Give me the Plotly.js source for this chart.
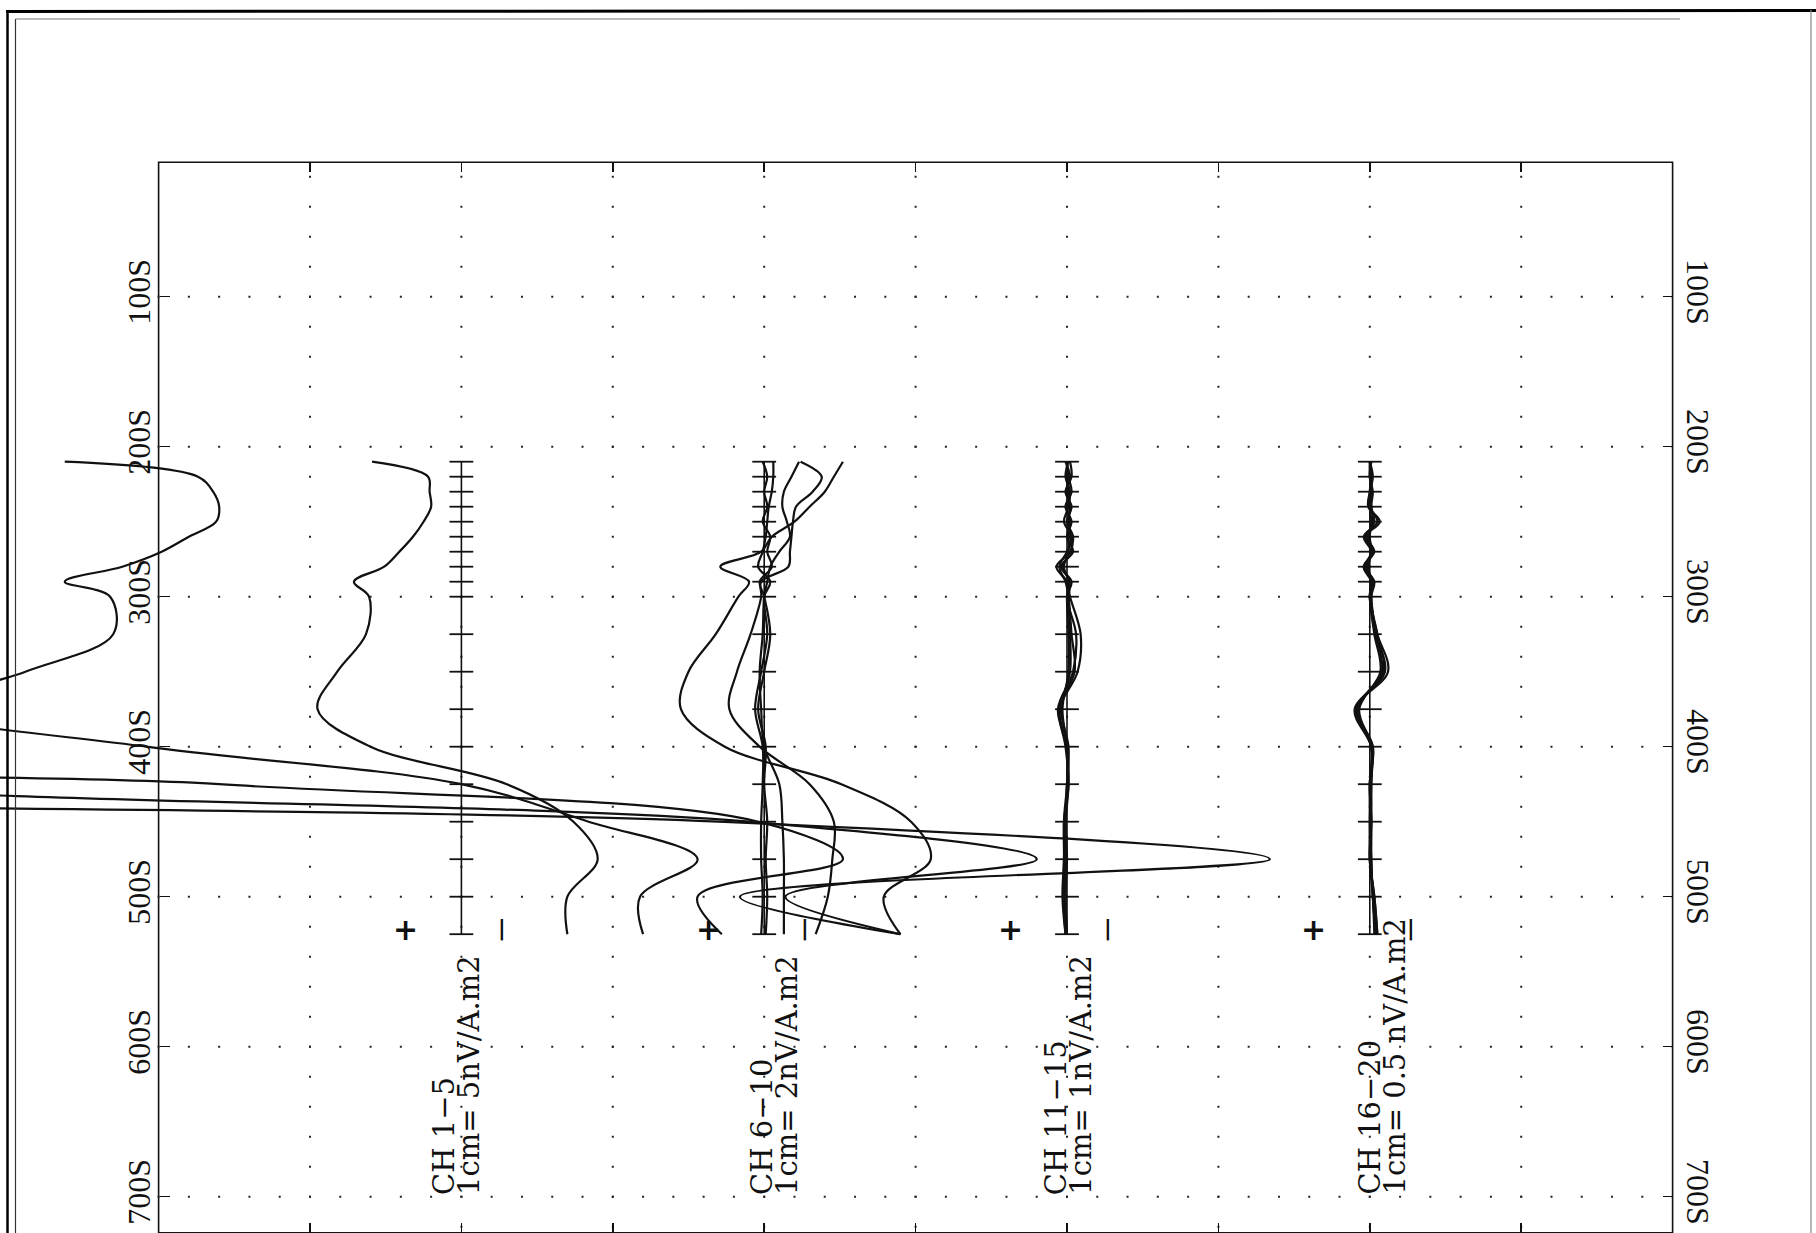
<!DOCTYPE html>
<html>
<head>
<meta charset="utf-8">
<script src="https://cdn.plot.ly/plotly-3.0.1.min.js"></script>
<style>
html,body{margin:0;padding:0;background:#ffffff;}
#chart{width:1816px;height:1233px;}
</style>
</head>
<body>
<div id="chart"></div>
<script>
// ---------------- DATA ----------------
// stations (S) at which the channels were read
const stations = [210,220,230,240,250,260,270,280,290,300,325,350,375,400,425,450,475,500,525];
// station axis ticks
const stationTicks = [100,200,300,400,500,600,700];
const stationTickText = ['100S','200S','300S','400S','500S','600S','700S'];
// channel groups and their plot scales (nV/A.m2 per cm)
const groupNames = ['CH 1\u22125','CH 6\u221210','CH 11\u221215','CH 16\u221220'];
const groupScaleText = ['1cm= 5nV/A.m2','1cm= 2nV/A.m2','1cm= 1nV/A.m2','1cm= 0.5 nV/A.m2'];
const groupScales = [5, 2, 1, 0.5];

// channel responses, nV/A.m2 (positive plotted toward "+")
const ch1  = [28,27,27,26,26,27,28,29,30,30,32,34,36,40,50,-8.5,-26.7,-9.2,-14.5];
const ch2  = [24,23,23,22,22,23,24,25,26,26,27,29,31,30,21.7,-9.5,-19.0,-10.7,-14.5];
const ch3  = [21,20,20,19.5,19.5,20,21,22,23,23,24,26,28,29,8.0,-9.8,-12.6,-7.8,-8.6];
const ch4  = [13.1,8.7,8.2,8.0,8.1,9.0,9.9,11.2,13.1,11.6,11.5,14.4,18.0,10.4,0.0,-4.2,-7.8,-5.9,-6.0];
const ch5  = [2.95,1.1,1.05,1.0,1.25,1.6,2.05,2.55,3.55,3.05,3.15,4.1,4.75,3.0,-1.5,-3.7,-4.5,-3.5,-3.5];

const ch6  = [-1.04,-0.92,-0.80,-0.60,-0.40,-0.10,0.04,0.58,0.20,0.34,0.64,1.00,1.10,0.52,-1.02,-1.94,-2.20,-1.58,-1.80];
const ch7  = [-0.48,-0.76,-0.64,-0.42,-0.38,-0.36,-0.34,-0.32,0.04,0.04,0.18,0.36,0.46,0.06,-0.60,-0.92,-0.90,-0.84,-0.68];
const ch8  = [-0.46,-0.36,-0.26,-0.24,-0.30,-0.34,-0.20,-0.08,-0.04,0.00,0.02,0.06,0.04,0.00,-0.20,-0.24,-0.26,-0.26,-0.26];
const ch9  = [-0.12,-0.12,-0.10,-0.06,-0.04,-0.02,0.02,0.08,-0.08,0.00,-0.04,0.04,0.12,0.02,0.02,0.04,0.04,0.02,0.04];
const ch10 = [0.02,-0.04,0.00,-0.04,0.02,-0.08,-0.04,-0.10,0.06,0.00,-0.08,0.00,0.08,-0.02,0.00,-0.04,-0.02,-0.04,-0.02];

const ch11 = [-0.02,-0.03,0.01,-0.03,0.00,-0.04,-0.02,0.07,0.00,-0.02,-0.09,-0.07,0.05,0.01,-0.01,0.02,0.02,0.03,0.01];
const ch12 = [0.00,-0.01,-0.03,0.01,-0.03,0.00,-0.04,0.04,-0.03,0.00,-0.06,-0.04,0.06,0.00,-0.01,0.01,0.02,0.02,0.00];
const ch13 = [-0.01,0.01,-0.02,-0.01,0.02,-0.03,0.00,0.05,0.01,-0.01,-0.03,-0.05,0.05,0.00,0.00,0.02,0.01,0.02,0.01];
const ch14 = [0.01,-0.02,0.00,-0.02,-0.01,-0.02,-0.03,0.03,-0.02,-0.01,-0.02,-0.02,0.04,-0.01,0.00,0.01,0.01,0.01,0.00];
const ch15 = [0.00,0.00,-0.01,0.00,-0.02,-0.01,-0.01,0.02,-0.01,0.00,-0.01,-0.01,0.03,0.00,0.00,0.01,0.00,0.01,0.00];

const ch16 = [0,-0.01,0,0.005,-0.033,0.015,-0.01,0.02,-0.01,0,-0.025,-0.06,0.05,-0.005,-0.005,-0.005,0,-0.015,-0.025];
const ch17 = [0,-0.005,-0.005,0,-0.025,0.02,-0.005,0.015,-0.015,-0.005,-0.02,-0.05,0.045,-0.01,0,-0.005,-0.005,-0.01,-0.02];
const ch18 = [-0.005,0,-0.01,-0.005,-0.015,0.01,-0.015,0.02,-0.005,0,-0.025,-0.045,0.045,-0.005,-0.005,0,-0.005,-0.01,-0.02];
const ch19 = [0,-0.005,0,-0.005,-0.01,0.005,-0.01,0.01,-0.01,-0.005,-0.02,-0.04,0.04,-0.01,0,-0.005,0,-0.015,-0.025];
const ch20 = [0,0,-0.005,0,-0.005,0,-0.005,0.005,-0.005,0,-0.015,-0.035,0.035,-0.005,0,0,0,-0.01,-0.015];

// ---------------- LAYOUT / DRAWING ----------------
const W = 1816, H = 1233;
const PX_PER_CM = 151.4, PLOT_LEFT_PX = 158.6;      // grid column width and frame left
const PX_PER_S = 1.5, S100_PX = 296.7;              // station scale
const X0 = -PLOT_LEFT_PX / PX_PER_CM, X1 = X0 + W / PX_PER_CM;
const T_TOP = 100 - S100_PX / PX_PER_S, T_BOT = T_TOP + H / PX_PER_S;
const FRAME_TOP_T = 10.4, FRAME_BOT_T = 724;
const bases = [2, 4, 6, 8];                          // zero-line columns (cm)
const groupSeries = [[ch1,ch2,ch3,ch4,ch5],[ch6,ch7,ch8,ch9,ch10],[ch11,ch12,ch13,ch14,ch15],[ch16,ch17,ch18,ch19,ch20]];
const INK = '#111111';

const traces = [];
groupSeries.forEach((series, g) => {
  const base = bases[g], sc = groupScales[g];
  const zero = stations.map(() => 0);
  traces.push({
    x: zero.map(v => base - v / sc), y: stations, mode: 'lines+markers', type: 'scatter',
    line: {color: INK, width: 1.6},
    marker: {symbol: 'line-ew', size: 17, line: {color: INK, width: 1.8}},
    hoverinfo: 'skip', showlegend: false
  });
  series.forEach((vals, i) => {
    traces.push({
      x: vals.map(v => base - v / sc), y: stations, mode: 'lines', type: 'scatter',
      name: 'CH ' + (g * 5 + i + 1),
      line: {color: INK, width: 2.2, shape: 'spline', smoothing: 1},
      hoverinfo: 'skip', showlegend: false
    });
  });
});
// overlay axes (right / bottom frame ticks)
traces.push({x: [], y: [], xaxis: 'x2', yaxis: 'y2', type: 'scatter', mode: 'lines', showlegend: false});

const shapes = [];
// plot frame
shapes.push({type: 'rect', xref: 'x', yref: 'y', x0: 0, x1: 10, y0: FRAME_TOP_T, y1: FRAME_BOT_T,
  line: {color: INK, width: 1.6}, layer: 'below'});
// dotted grid: station lines
stationTicks.forEach(t => shapes.push({type: 'line', xref: 'x', yref: 'y',
  x0: -1 / PX_PER_CM, x1: 10, y0: t, y1: t, layer: 'below',
  line: {color: '#222', width: 2, dash: '2px,28.28px'}}));
// dotted grid: columns
for (let c = 1; c <= 9; c++) shapes.push({type: 'line', xref: 'x', yref: 'y',
  x0: c, x1: c, y0: 19.33, y1: FRAME_BOT_T, layer: 'below',
  line: {color: '#222', width: 2, dash: '2px,28px'}});
// page border (scanned sheet edges)
const px = v => v / W, py = v => 1 - v / H;
shapes.push({type: 'line', xref: 'paper', yref: 'paper', x0: px(7.5), x1: px(7.5), y0: 0, y1: py(10), line: {color: '#000', width: 2.5}});
shapes.push({type: 'line', xref: 'paper', yref: 'paper', x0: px(15.5), x1: px(15.5), y0: 0, y1: py(19), line: {color: '#333', width: 1.2}});
shapes.push({type: 'line', xref: 'paper', yref: 'paper', x0: px(6), x1: 1, y0: py(11.5), y1: py(10.5), line: {color: '#000', width: 3}});
shapes.push({type: 'line', xref: 'paper', yref: 'paper', x0: px(15.5), x1: px(1680), y0: py(19), y1: py(19), line: {color: '#777', width: 1}});
shapes.push({type: 'line', xref: 'paper', yref: 'paper', x0: px(1811), x1: px(1811), y0: 0, y1: py(10), line: {color: '#888', width: 1.2}});

const annotations = [];
const labelOffsets = [-0.04, 0.06, 0.0, 0.07];
groupNames.forEach((name, g) => {
  const cx = bases[g] + labelOffsets[g];
  annotations.push({x: cx - 0.075, y: 700.2, xref: 'x', yref: 'y', text: name, showarrow: false,
    textangle: -90, xanchor: 'center', yanchor: 'bottom',
    font: {family: 'DejaVu Serif', size: 29, color: INK}});
  annotations.push({x: cx + 0.09, y: 700.2, xref: 'x', yref: 'y', text: groupScaleText[g], showarrow: false,
    textangle: -90, xanchor: 'center', yanchor: 'bottom',
    font: {family: 'DejaVu Serif', size: 29, color: INK}});
  annotations.push({x: bases[g] - 0.37, y: 522, xref: 'x', yref: 'y', text: '+', showarrow: false,
    xanchor: 'center', yanchor: 'middle', font: {family: 'DejaVu Sans', size: 30, color: INK, weight: 'bold'}});
  annotations.push({x: bases[g] + 0.27, y: 521, xref: 'x', yref: 'y', text: '|', showarrow: false,
    xanchor: 'center', yanchor: 'middle', font: {family: 'DejaVu Sans', size: 21, color: INK, weight: 'bold'}});
});

const tickFont = {family: 'Liberation Serif', size: 32, color: INK};
const layout = {
  width: W, height: H,
  margin: {l: 0, r: 0, t: 0, b: 0},
  paper_bgcolor: '#ffffff', plot_bgcolor: '#ffffff',
  showlegend: false,
  xaxis: {range: [X0, X1], domain: [0, 1], anchor: 'free', position: py(162.3), side: 'top',
    tickvals: [1,2,3,4,5,6,7,8,9], ticks: 'inside', ticklen: 9, tickwidth: 1.5, tickcolor: INK,
    showticklabels: false, showgrid: false, zeroline: false, showline: false, fixedrange: true},
  xaxis2: {range: [X0, X1], overlaying: 'x', anchor: 'free', position: 0.0012, side: 'bottom',
    tickvals: [1,2,3,4,5,6,7,8,9], ticks: 'inside', ticklen: 9, tickwidth: 1.5, tickcolor: INK,
    showticklabels: false, showgrid: false, zeroline: false, showline: false, fixedrange: true},
  yaxis: {range: [T_BOT, T_TOP], domain: [0, 1], anchor: 'free', position: px(PLOT_LEFT_PX), side: 'left',
    tickvals: stationTicks, ticktext: stationTickText, tickangle: -90, tickfont: tickFont,
    ticks: 'inside', ticklen: 10, tickwidth: 1.5, tickcolor: INK, ticklabelstandoff: 2,
    showgrid: false, zeroline: false, showline: false, fixedrange: true},
  yaxis2: {range: [T_BOT, T_TOP], overlaying: 'y', anchor: 'free', position: px(1673.2), side: 'right',
    tickvals: stationTicks, ticktext: stationTickText, tickangle: 90, tickfont: tickFont,
    ticks: 'inside', ticklen: 10, tickwidth: 1.5, tickcolor: INK, ticklabelstandoff: 6,
    showgrid: false, zeroline: false, showline: false, fixedrange: true},
  shapes: shapes,
  annotations: annotations
};

Plotly.newPlot('chart', traces, layout, {staticPlot: true, displayModeBar: false});
</script>
</body>
</html>
